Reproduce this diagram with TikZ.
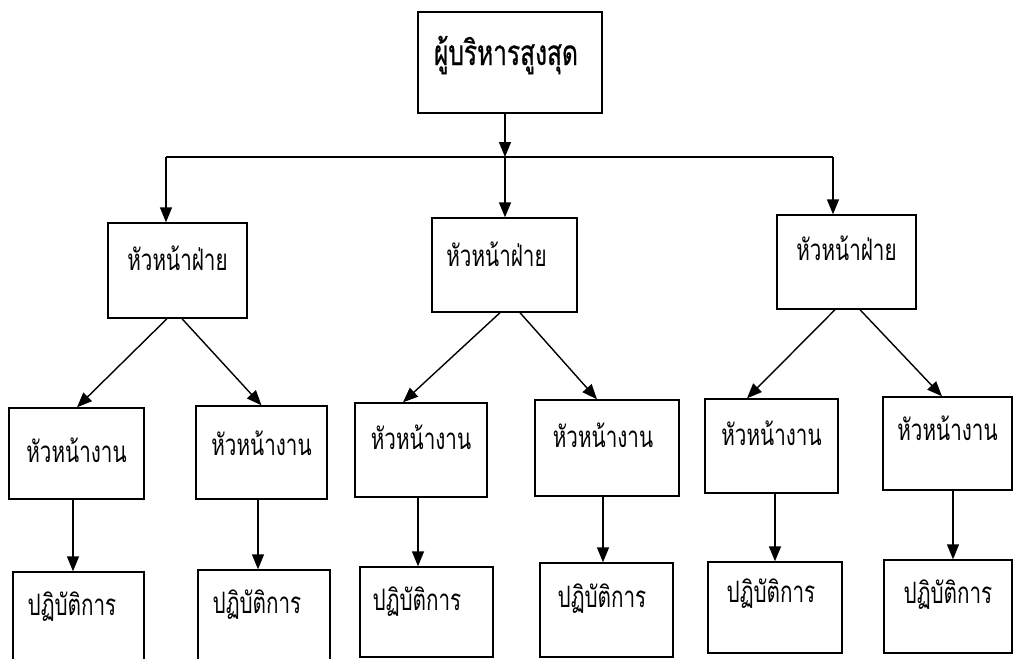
\documentclass[tikz,border=0pt]{standalone}
\usepackage{fontspec}
\newfontfamily\thaifont[Script=Thai,FakeStretch=0.7]{Loma}
\newfontfamily\thaitopfont[Script=Thai,FakeStretch=0.7,FakeBold=0.7]{Loma}
\usetikzlibrary{arrows.meta}
\tikzset{
  box/.style={draw=black, line width=1.4pt, inner xsep=0pt, inner ysep=0pt, anchor=base, font=\thaifont\fontsize{29.5}{32}\selectfont},
  topbox/.style={box, font=\thaitopfont\fontsize{35}{38}\selectfont},
  arr/.style={line width=1.4pt, -{Triangle[length=15pt,width=12pt]}},
  ln/.style={line width=1.4pt}
}
\begin{document}
\begin{tikzpicture}[x=1pt,y=1pt]
\useasboundingbox (0,0) rectangle (1013,-659);
\clip (0,0) rectangle (1013,-659);
% level 1
\node[topbox, minimum width=184pt, text height=53pt, text depth=48pt] (A) at (510,-65) {\hspace*{-8pt}ผู้บริหารสูงสุด};
% level 2
\node[box, minimum width=139pt, text height=47pt, text depth=48pt] (B1) at (177.5,-270) {หัวหน้าฝ่าย};
\node[box, minimum width=145pt, text height=48pt, text depth=46pt] (B2) at (504.5,-266) {\hspace*{-16pt}หัวหน้าฝ่าย};
\node[box, minimum width=139pt, text height=45pt, text depth=49pt] (B3) at (846.5,-260) {หัวหน้าฝ่าย};
% level 3
\node[box, minimum width=135pt, text height=54pt, text depth=37pt] (C1) at (76.5,-462) {หัวหน้างาน};
\node[box, minimum width=131pt, text height=49pt, text depth=44pt] (C2) at (261.5,-455) {หัวหน้างาน};
\node[box, minimum width=132pt, text height=46pt, text depth=48pt] (C3) at (421,-449) {หัวหน้างาน};
\node[box, minimum width=144pt, text height=47pt, text depth=49pt] (C4) at (607,-447) {\hspace*{-8pt}หัวหน้างาน};
\node[box, minimum width=133pt, text height=46pt, text depth=48pt] (C5) at (771.5,-445) {หัวหน้างาน};
\node[box, minimum width=129pt, text height=43pt, text depth=50pt] (C6) at (947.5,-440) {หัวหน้างาน};
% level 4
\node[box, minimum width=131pt, text height=43pt, text depth=53pt] (D1) at (78.5,-615) {\hspace*{-13pt}ปฏิบัติการ};
\node[box, minimum width=132pt, text height=43pt, text depth=53pt] (D2) at (264,-613) {\hspace*{-14pt}ปฏิบัติการ};
\node[box, minimum width=133pt, text height=43pt, text depth=47pt] (D3) at (426.5,-610) {\hspace*{-19pt}ปฏิบัติการ};
\node[box, minimum width=133pt, text height=44pt, text depth=50pt] (D4) at (606.5,-607) {\hspace*{-9pt}ปฏิบัติการ};
\node[box, minimum width=134pt, text height=40pt, text depth=51pt] (D5) at (775,-602) {\hspace*{-8pt}ปฏิบัติการ};
\node[box, minimum width=128pt, text height=43pt, text depth=50pt] (D6) at (948,-603) {ปฏิบัติการ};
% level 1 -> level 2
\coordinate (J) at (505,-157);
\coordinate (JL) at (166,-157);
\coordinate (JR) at (833,-157);
\draw[arr] (A.south -| J) -- (J);
\draw[ln] (JL) -- (JR);
\draw[arr] (JL) -- (JL |- B1.north);
\draw[arr] (J) -- (J |- B2.north);
\draw[arr] (JR) -- (JR |- B3.north);
% level 2 -> level 3
\draw[arr] ([xshift=-10.5pt]B1.south) -- ([xshift=0.5pt]C1.north);
\draw[arr] ([xshift=4.5pt]B1.south) -- (C2.north);
\draw[arr] ([xshift=-4.5pt]B2.south) -- ([xshift=-18pt]C3.north);
\draw[arr] ([xshift=15.5pt]B2.south) -- ([xshift=-10pt]C4.north);
\draw[arr] ([xshift=-11.5pt]B3.south) -- ([xshift=-24.5pt]C5.north);
\draw[arr] ([xshift=13.5pt]B3.south) -- ([xshift=-5.5pt]C6.north);
% level 3 -> level 4
\draw[arr] ([xshift=-3.5pt]C1.south) -- ([xshift=-3.5pt]C1.south |- D1.north);
\draw[arr] ([xshift=-3.5pt]C2.south) -- ([xshift=-3.5pt]C2.south |- D2.north);
\draw[arr] ([xshift=-3pt]C3.south) -- ([xshift=-3pt]C3.south |- D3.north);
\draw[arr] ([xshift=-4pt]C4.south) -- ([xshift=-4pt]C4.south |- D4.north);
\draw[arr] ([xshift=3.5pt]C5.south) -- ([xshift=3.5pt]C5.south |- D5.north);
\draw[arr] ([xshift=5.5pt]C6.south) -- ([xshift=5.5pt]C6.south |- D6.north);
\end{tikzpicture}
\end{document}
